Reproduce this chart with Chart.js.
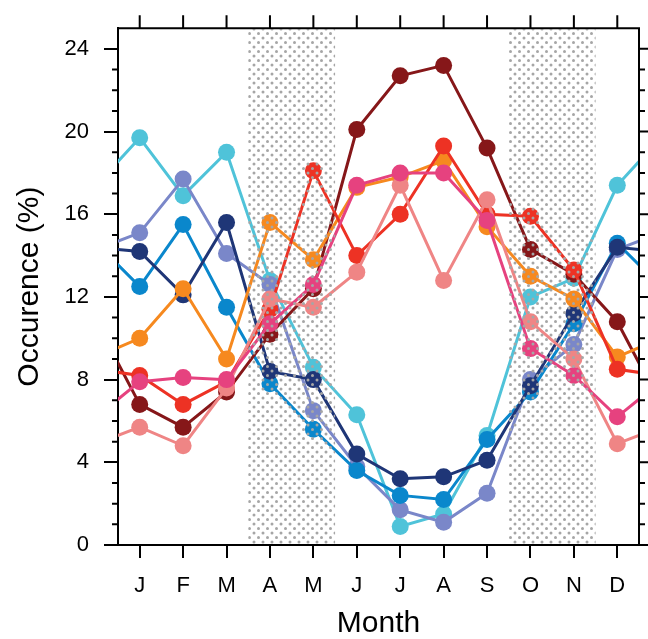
<!DOCTYPE html>
<html>
<head>
<meta charset="utf-8">
<script src="https://cdn.jsdelivr.net/npm/chart.js@4"></script>
<style>
  html, body { margin: 0; padding: 0; background: #fff; }
</style>
</head>
<body>
<canvas id="chart" width="648" height="639"></canvas>
<script>
// monthly occurrence (%) per cluster
const months = ["J", "F", "M", "A", "M", "J", "J", "A", "S", "O", "N", "D"];
const yTicks = [0, 4, 8, 12, 16, 20, 24];
const shadedMonths = [[4, 5], [10, 11]]; // A-M and O-N

const cyan       = [19.7, 16.9, 19.0, 12.8,  8.6,  6.3,  0.9,  1.5,  5.3, 12.0, 12.9, 17.4];
const periwinkle = [15.1, 17.7, 14.1, 12.6,  6.5,  3.8,  1.7,  1.1,  2.5,  8.0,  9.7, 14.3];
const midBlue    = [12.5, 15.5, 11.5,  7.8,  5.6,  3.6,  2.4,  2.2,  5.1,  7.4, 10.7, 14.6];
const navy       = [14.2, 12.1, 15.6,  8.4,  8.0,  4.4,  3.2,  3.3,  4.1,  7.7, 11.2, 14.4];
const orange     = [10.0, 12.4,  9.0, 15.6, 13.8, 17.3, 17.8, 18.6, 15.4, 13.0, 11.9,  9.1];
const red        = [ 8.2,  6.8,  7.9, 11.4, 18.1, 14.0, 16.0, 19.3, 16.0, 15.9, 13.3,  8.5];
const pink       = [ 7.9,  8.1,  8.0, 10.7, 12.6, 17.4, 18.0, 18.0, 15.7,  9.5,  8.2,  6.2];
const darkRed    = [ 6.8,  5.7,  7.4, 10.2, 12.4, 20.1, 22.7, 23.2, 19.2, 14.3, 13.1, 10.8];
const salmon     = [ 5.7,  4.8,  7.6, 11.9, 11.5, 13.2, 17.4, 12.8, 16.7, 10.8,  9.0,  4.9];

const series = [
    { data: pink, color: "#e6427f" },
    { data: salmon, color: "#ef8585" },
    { data: red, color: "#ed3224" },
    { data: orange, color: "#f6891f" },
    { data: darkRed, color: "#861719" },
    { data: navy, color: "#1f3677" },
    { data: midBlue, color: "#0a87cc" },
    { data: periwinkle, color: "#7a87c9" },
    { data: cyan, color: "#4fc3d9" }
];

const FONT = "'Liberation Sans', Arial, sans-serif";

// year wraps round: December sits before J, January after D (clipped at the frame)
function wrapPoints(vals) {
    const pts = vals.map((v, i) => ({ x: i + 1, y: v }));
    return [{ x: 0, y: vals[11] }, ...pts, { x: 13, y: vals[0] }];
}

function dotPattern(ctx) {
    const tile = document.createElement("canvas");
    tile.width = 9;
    tile.height = 9;
    const t = tile.getContext("2d");
    t.fillStyle = "#a6a6a6";
    [[2, 2], [6.5, 6.5]].forEach(([x, y]) => {
        t.beginPath();
        t.arc(x, y, 1.5, 0, Math.PI * 2);
        t.fill();
    });
    return ctx.createPattern(tile, "repeat");
}

const framePlugin = {
    id: "frame",
    afterDatasetsDraw(chart) {
        const { ctx, chartArea: a, scales: { x } } = chart;
        ctx.save();
        ctx.fillStyle = dotPattern(ctx);
        shadedMonths.forEach(([m0, m1]) => {
            const x0 = x.getPixelForValue(m0 - 0.5);
            const x1 = x.getPixelForValue(m1 + 0.5);
            ctx.fillRect(x0, a.top + 1, x1 - x0, a.bottom - a.top - 2);
        });
        ctx.restore();
    },
    afterDraw(chart) {
        const { ctx, chartArea: a, scales: { x, y } } = chart;
        ctx.save();
        ctx.strokeStyle = "#000";
        ctx.lineWidth = 2;
        ctx.beginPath();
        ctx.moveTo(a.left, a.top);
        ctx.lineTo(a.right, a.top);
        ctx.lineTo(a.right, a.bottom);
        // minor ticks on the left, all ticks on the right
        for (let v = 0; v < 25; v++) {
            const py = y.getPixelForValue(v);
            const major = v % 4 === 0;
            if (!major) {
                ctx.moveTo(a.left, py);
                ctx.lineTo(a.left - 6, py);
            }
            ctx.moveTo(a.right, py);
            ctx.lineTo(a.right + (major ? 13 : 6), py);
        }
        // month ticks along the top
        months.forEach((m, i) => {
            const px = x.getPixelForValue(i + 1);
            ctx.moveTo(px, a.top);
            ctx.lineTo(px, a.top - 13);
        });
        ctx.stroke();
        ctx.restore();
    }
};

new Chart(document.getElementById("chart"), {
    type: "line",
    data: {
        datasets: series.map(s => ({
            data: wrapPoints(s.data),
            borderColor: s.color,
            backgroundColor: s.color,
            borderWidth: 3,
            pointRadius: c => (c.raw && c.raw.x >= 1 && c.raw.x <= 12 ? 8.5 : 0),
            pointHoverRadius: 0,
            pointBorderWidth: 0,
            tension: 0,
            fill: false
        }))
    },
    options: {
        responsive: false,
        animation: false,
        devicePixelRatio: 1,
        layout: { padding: { top: 24, right: 9, bottom: 0, left: 0 } },
        plugins: { legend: { display: false }, tooltip: { enabled: false } },
        scales: {
            x: {
                type: "linear",
                min: 0.5,
                max: 12.5,
                afterBuildTicks: s => { s.ticks = months.map((m, i) => ({ value: i + 1 })); },
                afterFit: s => { s.height = 94; },
                ticks: {
                    callback: v => months[v - 1],
                    font: { family: FONT, size: 22 },
                    color: "#000",
                    padding: 15,
                    maxRotation: 0,
                    autoSkip: false
                },
                grid: { drawOnChartArea: false, tickLength: 13, color: "#000", lineWidth: 2 },
                border: { display: true, color: "#000", width: 2 },
                title: {
                    display: true,
                    text: "Month",
                    font: { family: FONT, size: 30, lineHeight: 1 },
                    color: "#000",
                    padding: 0
                }
            },
            y: {
                min: 0,
                max: 25,
                afterBuildTicks: s => { s.ticks = yTicks.map(v => ({ value: v })); },
                afterFit: s => { s.width = 118; },
                ticks: {
                    font: { family: FONT, size: 22 },
                    color: "#000",
                    padding: 15
                },
                grid: { drawOnChartArea: false, tickLength: 14, color: "#000", lineWidth: 2 },
                border: { display: true, color: "#000", width: 2 },
                title: {
                    display: true,
                    text: "Occurence (%)",
                    font: { family: FONT, size: 30 },
                    color: "#000",
                    padding: { top: 12, bottom: 0 }
                }
            }
        }
    },
    plugins: [framePlugin]
});
</script>
</body>
</html>
